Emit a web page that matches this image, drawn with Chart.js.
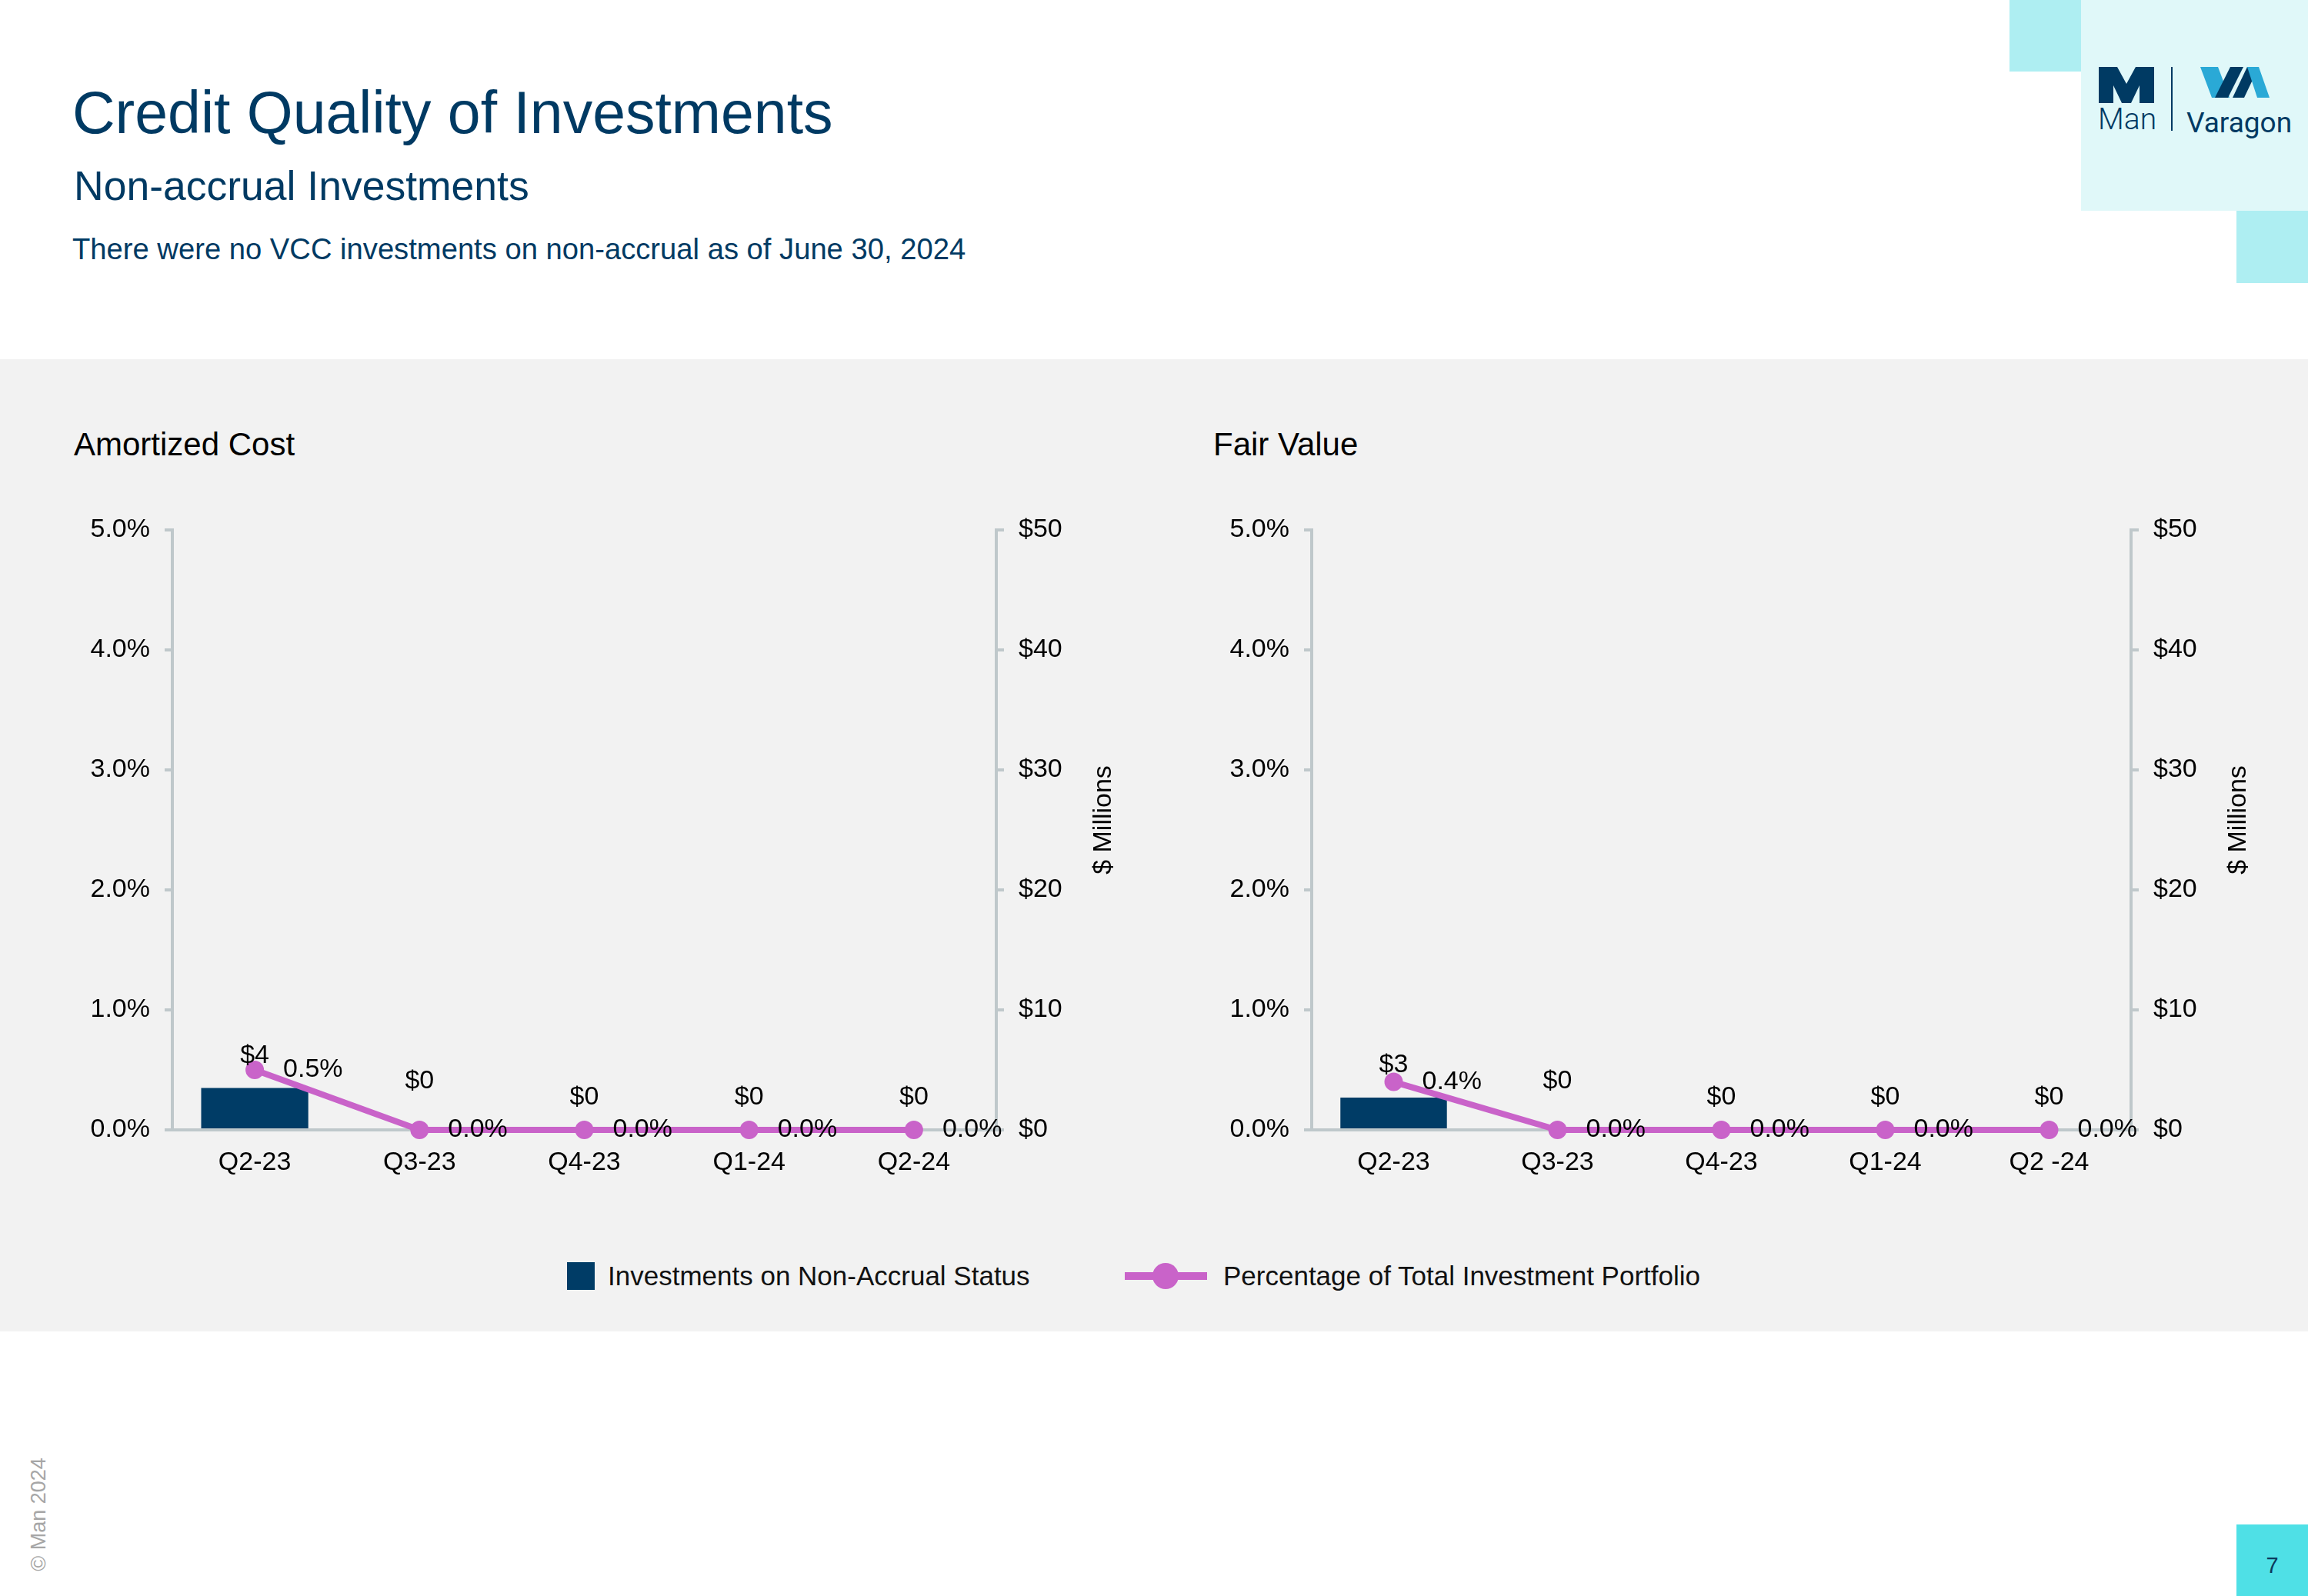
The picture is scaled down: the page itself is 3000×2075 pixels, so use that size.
<!DOCTYPE html>
<html>
<head>
<meta charset="utf-8">
<script src="https://cdn.jsdelivr.net/npm/chart.js@4.4.1/dist/chart.umd.min.js"></script>
<style>
  html, body { margin: 0; padding: 0; }
  body { width: 3000px; height: 2075px; position: relative; background: #ffffff; overflow: hidden;
         font-family: 'Liberation Sans', Arial, sans-serif; }
  .abs { position: absolute; line-height: 1; white-space: nowrap; }
  .navy { color: #003a63; }
  canvas { position: absolute; }
</style>
</head>
<body>
<!-- header -->
<div class="abs navy" style="left:94px; top:108px; font-size:77px;">Credit Quality of Investments</div>
<div class="abs navy" style="left:96px; top:215px; font-size:53.5px;">Non-accrual Investments</div>
<div class="abs navy" style="left:94px; top:305px; font-size:38.2px;">There were no VCC investments on non-accrual as of June 30, 2024</div>

<!-- logo block -->
<div class="abs" style="left:2612px; top:0; width:93px; height:93px; background:#aeeef2;"></div>
<div class="abs" style="left:2705px; top:0; width:295px; height:274px; background:#e0f8f9;"></div>
<div class="abs" style="left:2907px; top:274px; width:93px; height:94px; background:#aeeef2;"></div>
<svg class="abs" style="left:2728px; top:87px;" width="72" height="47" viewBox="0 0 72 47">
  <polygon fill="#003a63" points="0,0 24,0 36,22 48,0 72,0 72,47 53,47 53,24 42,47 30,47 19,24 19,47 0,47"/>
</svg>
<div class="abs" style="left:2727px; top:136px; font-size:39px; color:#003a63; font-family:Roboto, 'Liberation Sans', sans-serif; font-weight:300;">Man</div>
<div class="abs" style="left:2822px; top:87px; width:2px; height:83px; background:#003a63;"></div>
<svg class="abs" style="left:2860px; top:87px;" width="90" height="40" viewBox="0 0 90 40">
  <polygon fill="#2aa9d6" points="0,0 23,0 38,40 15,40"/>
  <polygon fill="#003a63" points="19,40 36,40 56,0 39,0"/>
  <polygon fill="#003a63" points="42,40 57,40 76,0 61,0"/>
  <polygon fill="#2aa9d6" points="61,0 76,0 90,40 74,40"/>
</svg>
<div class="abs" style="left:2842px; top:141px; font-size:37px; color:#003a63; font-family:Roboto, 'Liberation Sans', sans-serif;">Varagon</div>

<!-- grey panel -->
<div class="abs" style="left:0; top:467px; width:3000px; height:1264px; background:#f2f2f2;"></div>
<div class="abs" style="left:96px; top:557px; font-size:42px; color:#000;">Amortized Cost</div>
<div class="abs" style="left:1577px; top:557px; font-size:42px; color:#000;">Fair Value</div>

<canvas id="costChart" width="1410" height="960" style="left:96px; top:600px;"></canvas>
<canvas id="fairChart" width="1404" height="960" style="left:1577px; top:600px;"></canvas>

<!-- legend -->
<div class="abs" style="left:737px; top:1641px; width:36px; height:36px; background:#003c66;"></div>
<div class="abs" style="left:790px; top:1641px; font-size:35px; color:#111;">Investments on Non-Accrual Status</div>
<div class="abs" style="left:1462px; top:1654px; width:107px; height:10px; background:#c963c9;"></div>
<div class="abs" style="left:1498px; top:1642px; width:34px; height:34px; border-radius:50%; background:#c963c9;"></div>
<div class="abs" style="left:1590px; top:1641px; font-size:35px; color:#111;">Percentage of Total Investment Portfolio</div>

<!-- footer -->
<div class="abs" style="left:50px; top:1969px; font-size:27px; color:#a6a6a6; transform:translate(-50%,-50%) rotate(-90deg);">© Man 2024</div>
<div class="abs" style="left:2907px; top:1982px; width:93px; height:93px; background:#4fe0e6;"></div>
<div class="abs" style="left:2907px; top:2021px; width:93px; text-align:center; font-size:29px; color:#0b3a5c;">7</div>

<script>
// quarters on the x axis
const quarters = ['Q2-23', 'Q3-23', 'Q4-23', 'Q1-24', 'Q2-24'];
const quartersFair = ['Q2-23', 'Q3-23', 'Q4-23', 'Q1-24', 'Q2 -24'];

// investments on non-accrual status ($ millions)
const costNonAccrual = [3.5, 0, 0, 0, 0];
const fairNonAccrual = [2.7, 0, 0, 0, 0];

// percentage of total investment portfolio
const costPct = [0.5, 0, 0, 0, 0];
const fairPct = [0.4, 0, 0, 0, 0];

// axis ranges
const pctMax = 5, pctStep = 1;
const dollarMax = 50, dollarStep = 10;

const navy = '#003c66';
const orchid = '#c963c9';
const axisGrey = '#bfc8cb';

Chart.defaults.font.family = "'Liberation Sans', Arial, sans-serif";
Chart.defaults.font.size = 34;
Chart.defaults.color = '#000';

// the $ label above the Q3-23 bar sits a little higher in the original
const barLabelLift = [0, 21, 0, 0, 0];

const valueLabels = {
  id: 'valueLabels',
  afterDatasetsDraw(chart) {
    const ctx = chart.ctx;
    ctx.save();
    ctx.font = '34px "Liberation Sans", Arial, sans-serif';
    ctx.fillStyle = '#000';
    ctx.textBaseline = 'middle';

    const bars = chart.getDatasetMeta(0);
    ctx.textAlign = 'center';
    bars.data.forEach((el, i) => {
      const v = chart.data.datasets[0].data[i];
      ctx.fillText('$' + Math.round(v), el.x, el.y - 42 - barLabelLift[i]);
    });

    const pts = chart.getDatasetMeta(1);
    ctx.textAlign = 'left';
    pts.data.forEach((el, i) => {
      const v = chart.data.datasets[1].data[i];
      ctx.fillText(v.toFixed(1) + '%', el.x + 37, el.y);
    });

    // rotated right-hand axis title
    const a = chart.chartArea;
    ctx.translate(a.right + 140, (a.top + a.bottom) / 2 - 13);
    ctx.rotate(-Math.PI / 2);
    ctx.textAlign = 'center';
    ctx.fillText('$ Millions', 0, 0);
    ctx.restore();
  }
};

function makeChart(id, labels, dollars, pcts) {
  const ctx = document.getElementById(id).getContext('2d');
  return new Chart(ctx, {
    data: {
      labels: labels,
      datasets: [
        {
          type: 'bar',
          label: 'Investments on Non-Accrual Status',
          data: dollars,
          yAxisID: 'yD',
          backgroundColor: navy,
          categoryPercentage: 1,
          barPercentage: 0.65,
          order: 2
        },
        {
          type: 'line',
          label: 'Percentage of Total Investment Portfolio',
          data: pcts,
          yAxisID: 'yP',
          borderColor: orchid,
          backgroundColor: orchid,
          borderWidth: 8,
          pointRadius: 12,
          pointBorderWidth: 0,
          pointBackgroundColor: orchid,
          clip: false,
          order: 1
        }
      ]
    },
    options: {
      responsive: false,
      animation: false,
      devicePixelRatio: 1,
      layout: { padding: { top: 89, left: 0, right: 0, bottom: 0 } },
      plugins: { legend: { display: false }, tooltip: { enabled: false } },
      scales: {
        x: {
          offset: true,
          grid: { display: false, drawTicks: false },
          border: { display: true, color: axisGrey, width: 4 },
          ticks: { padding: 22, maxRotation: 0 },
          afterFit: s => { s.height = 91; }
        },
        yP: {
          position: 'left',
          min: 0, max: pctMax,
          grid: { drawOnChartArea: false, drawTicks: true, tickLength: 10, color: axisGrey, lineWidth: 4 },
          border: { display: true, color: axisGrey, width: 4 },
          ticks: { stepSize: pctStep, padding: 19, callback: v => v.toFixed(1) + '%' },
          afterFit: s => { s.width = 128; }
        },
        yD: {
          position: 'right',
          min: 0, max: dollarMax,
          grid: { drawOnChartArea: false, drawTicks: true, tickLength: 10, color: axisGrey, lineWidth: 4 },
          border: { display: true, color: axisGrey, width: 4 },
          ticks: { stepSize: dollarStep, padding: 19, callback: v => '$' + v },
          afterFit: s => { s.width = 211; }
        }
      }
    },
    plugins: [valueLabels]
  });
}

makeChart('costChart', quarters, costNonAccrual, costPct);
makeChart('fairChart', quartersFair, fairNonAccrual, fairPct);
</script>
</body>
</html>
